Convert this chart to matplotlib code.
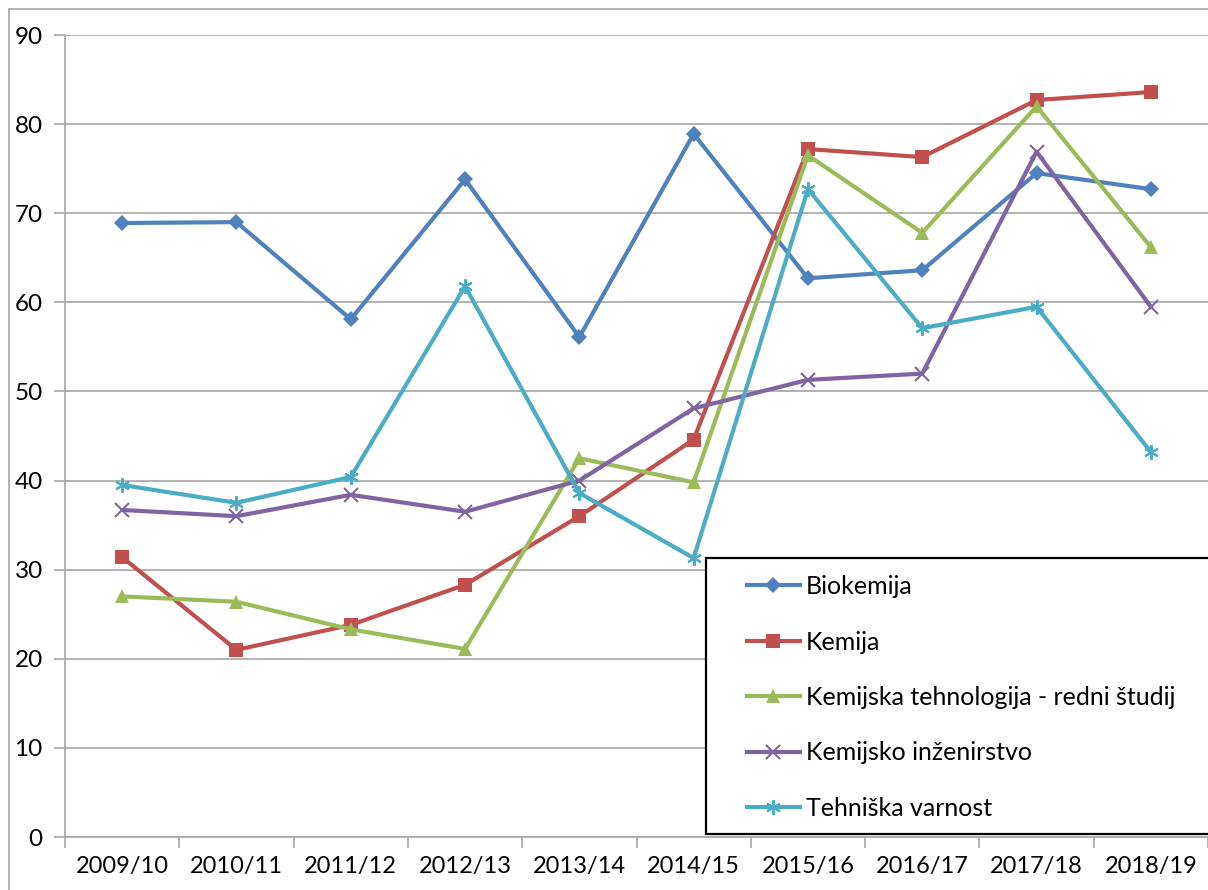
import numpy as np
import matplotlib.pyplot as plt
from matplotlib.patches import Rectangle

plt.rcParams['font.family'] = ['Lato', 'DejaVu Sans']

years = ['2009/10', '2010/11', '2011/12', '2012/13', '2013/14',
         '2014/15', '2015/16', '2016/17', '2017/18', '2018/19']

biokemija = [68.9, 69.0, 58.1, 73.8, 56.1, 78.9, 62.7, 63.6, 74.5, 72.7]
kemija = [31.4, 21.0, 23.8, 28.3, 36.0, 44.6, 77.2, 76.3, 82.7, 83.6]
kem_tehnologija = [27.0, 26.4, 23.3, 21.1, 42.5, 39.8, 76.5, 67.8, 82.0, 66.2]
kem_inzenirstvo = [36.7, 36.0, 38.4, 36.5, 40.0, 48.1, 51.3, 52.0, 76.9, 59.5]
teh_varnost = [39.5, 37.5, 40.4, 61.8, 38.6, 31.3, 72.7, 57.1, 59.5, 43.2]

names = ['Biokemija', 'Kemija', 'Kemijska tehnologija - redni študij',
         'Kemijsko inženirstvo', 'Tehniška varnost']
series = [biokemija, kemija, kem_tehnologija, kem_inzenirstvo, teh_varnost]
colors = ['#4F81BD', '#C0504D', '#9BBB59', '#8064A2', '#4BACC6']
markers = ['D', 's', '^', 'x', (6, 2, 0)]
msizes = [8.5, 10, 10.5, 9.5, 10.5]

W, H = 1208, 890
fig = plt.figure(figsize=(W / 100, H / 100), dpi=100)
ax = fig.add_axes([65 / W, 53 / H, 1143 / W, 802 / H])

# outer chart border (only top/left visible)
fig.patches.append(Rectangle((9 / W, -0.1), 1.2, (881 / H) + 0.1,
                             transform=fig.transFigure, fill=False,
                             edgecolor='#a6a6a6', linewidth=1.2))
# legend frame
fig.patches.append(Rectangle((706 / W, 1 - 834 / H), 0.5, 276 / H,
                             transform=fig.transFigure, fill=True,
                             facecolor='white', edgecolor='black',
                             linewidth=1.6, zorder=4))

x = np.arange(len(years))
for vals, name, c, m, ms in zip(series, names, colors, markers, msizes):
    ax.plot(x, vals, color=c, linewidth=3, marker=m, markersize=ms,
            markeredgewidth=1.5 if m == 'x' or isinstance(m, tuple) else 0,
            markeredgecolor=c, markerfacecolor=c, label=name, zorder=3)

ax.set_xlim(-0.5, len(years) - 0.5)
ax.set_ylim(0, 90)
ax.set_yticks(np.arange(0, 91, 10))
ax.set_xticks(x)
ax.set_xticklabels(years)
ax.set_xticks(np.arange(-0.5, len(years), 1), minor=True)
ax.tick_params(axis='x', which='major', length=0, pad=14, labelsize=17)
ax.tick_params(axis='x', which='minor', length=8, color='#a6a6a6', width=1.2)
ax.tick_params(axis='y', length=8, color='#a6a6a6', width=1.2, pad=8,
               labelsize=17.5)
ax.grid(axis='y', color='#a6a6a6', linewidth=1.2)
ax.set_axisbelow(True)
for s in ['top', 'right']:
    ax.spines[s].set_visible(False)
for s in ['left', 'bottom']:
    ax.spines[s].set_color('#a6a6a6')
    ax.spines[s].set_linewidth(1.2)

leg = fig.legend(*ax.get_legend_handles_labels(), loc='upper left',
                 bbox_to_anchor=(747 / W, 1 - 575 / H),
                 frameon=False, fontsize=18, labelspacing=1.3,
                 handlelength=2.1, handletextpad=0.25,
                 borderpad=0, borderaxespad=0)
leg.set_zorder(5)

fig.savefig('out.png', dpi=100)
